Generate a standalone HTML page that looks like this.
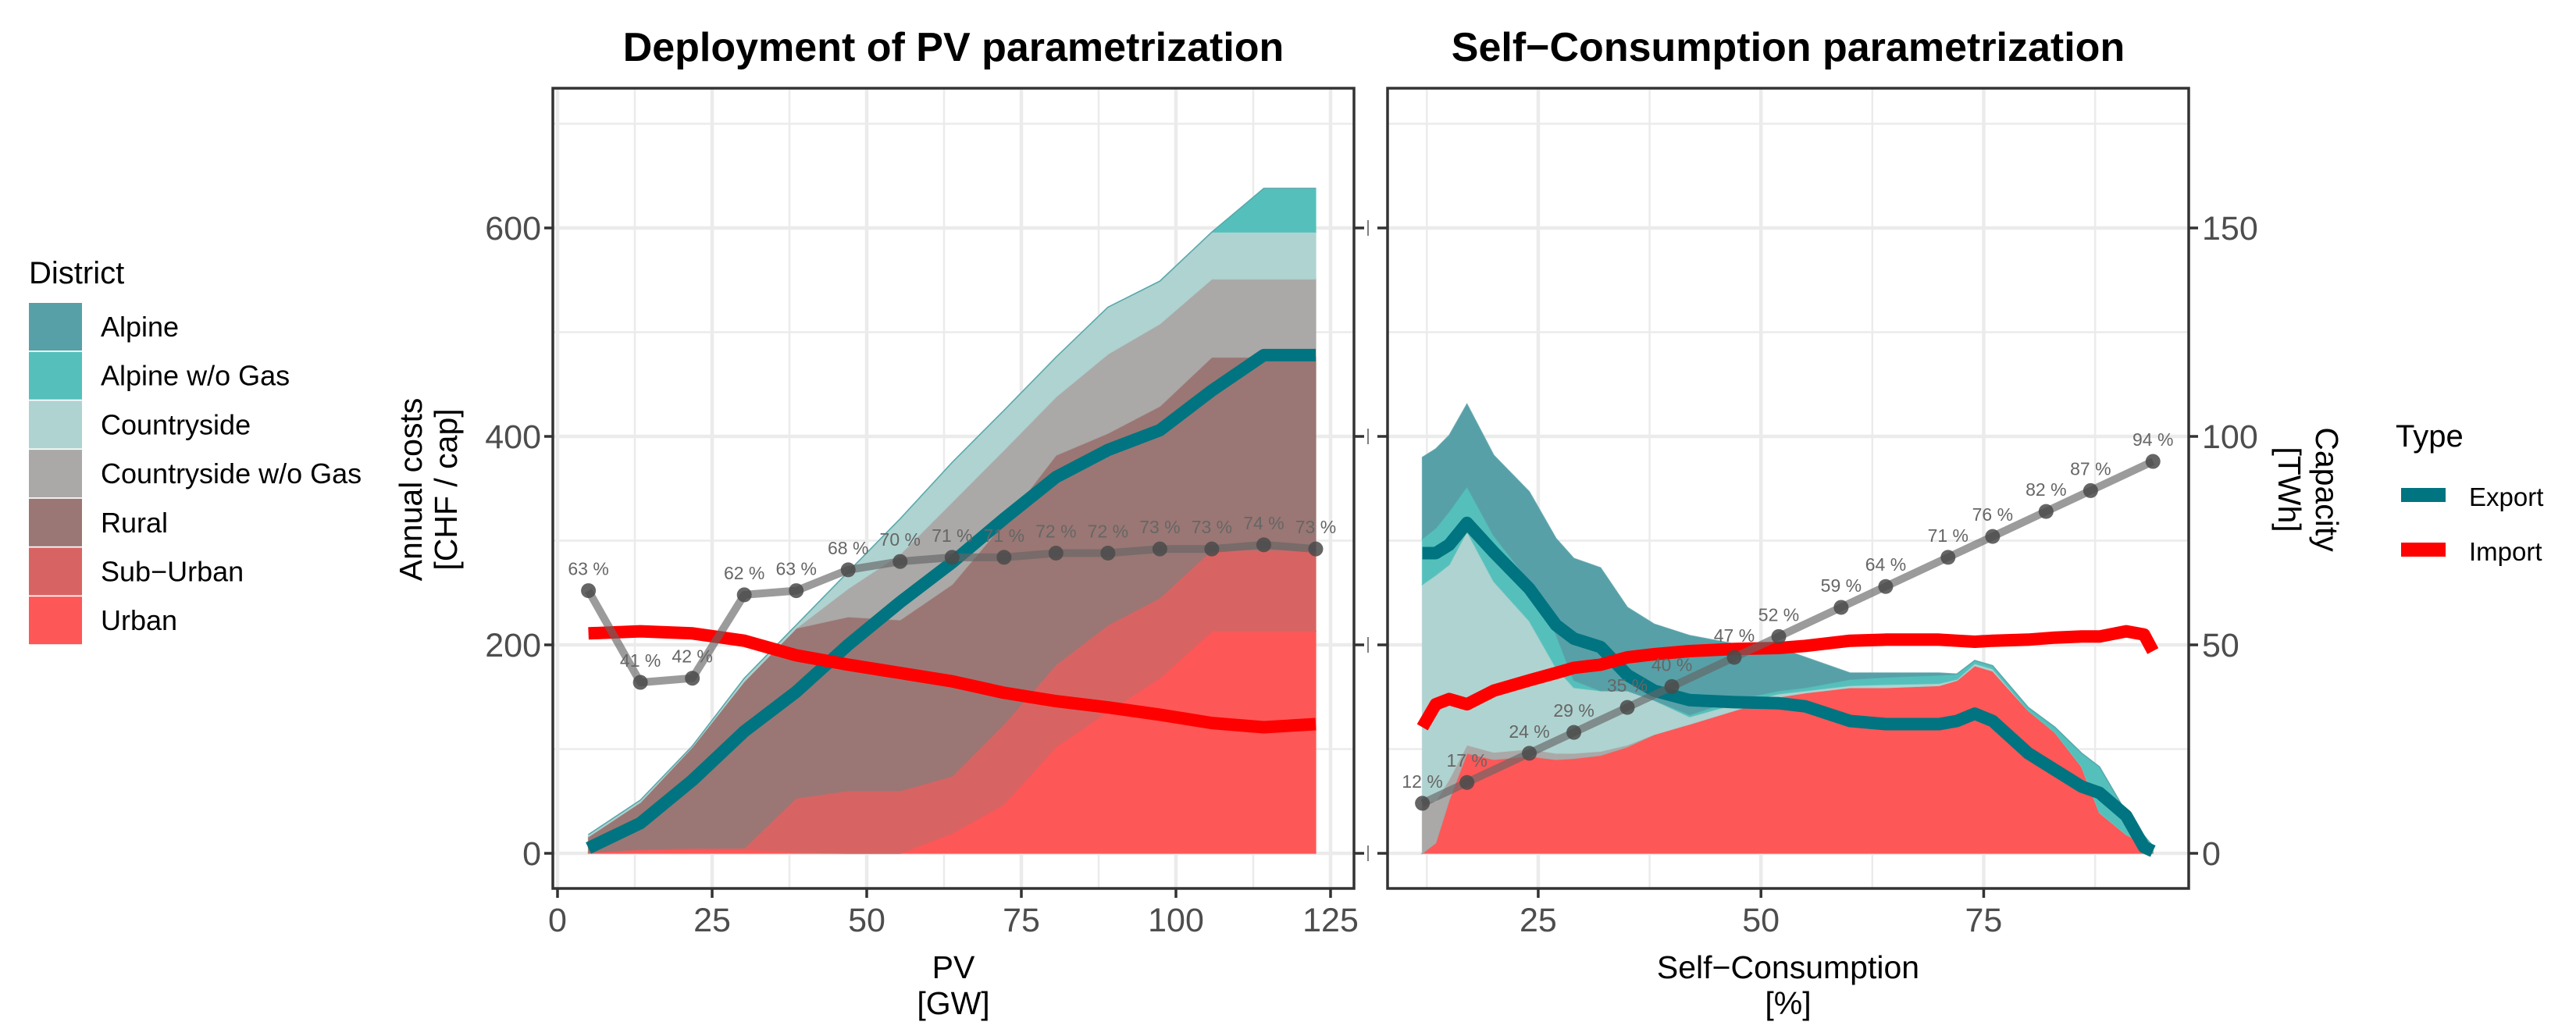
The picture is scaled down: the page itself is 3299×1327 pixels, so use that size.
<!DOCTYPE html>
<html><head><meta charset="utf-8"><style>
html,body{margin:0;padding:0;background:#fff;}
svg{display:block;font-family:"Liberation Sans",sans-serif;}
</style></head><body>
<svg id="chart" xmlns="http://www.w3.org/2000/svg" width="3299" height="1327" viewBox="0 0 3299 1327">
<rect width="3299" height="1327" fill="#fff"/>
<defs>
<clipPath id="clipL"><rect x="708" y="113" width="1026" height="1025"/></clipPath>
<clipPath id="clipR"><rect x="1777" y="113" width="1026" height="1025"/></clipPath>
</defs>
<g id="gridL"></g>
<g id="gridR"></g>
<g id="areasL" clip-path="url(#clipL)"></g>
<g id="areasR" clip-path="url(#clipR)"></g>
<g id="linesL" clip-path="url(#clipL)"></g>
<g id="linesR" clip-path="url(#clipR)"></g>
<rect x="708" y="113" width="1026" height="1025" fill="none" stroke="#333" stroke-width="3.5"/>
<rect x="1777" y="113" width="1026" height="1025" fill="none" stroke="#333" stroke-width="3.5"/>
<g id="axes"></g>
<text x="1221" y="78" text-anchor="middle" font-size="52" font-weight="bold">Deployment of PV parametrization</text>
<text x="2290" y="78" text-anchor="middle" font-size="52" font-weight="bold">Self−Consumption parametrization</text>
<text x="1221" y="1253" text-anchor="middle" font-size="41">PV</text>
<text x="1221" y="1299" text-anchor="middle" font-size="41">[GW]</text>
<text x="2290" y="1253" text-anchor="middle" font-size="41">Self−Consumption</text>
<text x="2290" y="1299" text-anchor="middle" font-size="41">[%]</text>
<text transform="translate(540,627) rotate(-90)" text-anchor="middle" font-size="41">Annual costs</text>
<text transform="translate(585,627) rotate(-90)" text-anchor="middle" font-size="41">[CHF / cap]</text>
<text transform="translate(2966,627) rotate(90)" text-anchor="middle" font-size="41">Capacity</text>
<text transform="translate(2918,627) rotate(90)" text-anchor="middle" font-size="41">[TWh]</text>
<g id="legendD">
<text x="37" y="363" font-size="40">District</text>
</g>
<g id="legendT">
<text x="3068" y="572" font-size="40">Type</text>
<rect x="3075" y="625" width="57" height="18" fill="#007480"/>
<text x="3162" y="648" font-size="33">Export</text>
<rect x="3075" y="695" width="57" height="18" fill="#ff0000"/>
<text x="3162" y="718" font-size="33">Import</text>
</g>
</svg>
<script>
// ---- data ----
const districts = ["Alpine","Alpine w/o Gas","Countryside","Countryside w/o Gas","Rural","Sub-Urban","Urban"];
const districtColors = ["#57a0a7","#55c0bb","#afd3d0","#aaa9a8","#9a7774","#d76463","#fe5757"];
// Left panel: PV deployment
const pvX = [5,13.4,21.8,30.2,38.6,47,55.4,63.8,72.2,80.6,89,97.4,105.8,114.2,122.6];
const pvUrban = [1,3,4,4,1,0,0,19,47,102,136,168,213,213,213];
const pvSubUrban = [0,1,1,1,52,60,60,55,77,79,83,77,78,78,78];
const pvRural = [15,45,97,160,163,167,164,184,193,201,184,184,185,185,185];
const pvCountrysideWoGas = [0,0,0,0,0,27,63,79,70,56,76,79,75,75,75];
const pvCountryside = [2,2,1,3,3,16,34,38,38,38,45,41,45,45,45];
const pvAlpineWoGas = [0,0,0,0,0,0,0,0,0,0,0,0,0,42,42];
const pvAlpine = [0,0,0,0,0,0,0,0,0,0,0,0,0,0,0];
const pvExport = [5,29,70,117,155,200,241,279,321,361,387,406,444,478,478];
const pvImport = [211,213,211,204,190,181,173,165,154,146,140,133,125,121,124];
const pvSelfCons = [63,41,42,62,63,68,70,71,71,72,72,73,73,74,73];
// Right panel: Self-consumption
const scX = [12,13.5,15,17,20,24,27,29,32,35,38,42,47,52,55,60,64,70,72,74,76,80,83,86,88,91,93,94];
const scUrban = [0,10,51,96,90,93,90,91,94,102,114,124,137,150,154,159,159,161,166,180,175,137,116,83,39,18,10,1];
const scSubUrban = [0,0,0,0,0,0,0,0,0,0,0,0,0,0,0,0,0,0,0,0,0,0,0,0,0,0,0,0];
const scRural = [0,0,0,0,0,0,0,0,0,0,0,0,0,0,0,0,0,0,0,0,0,0,0,0,0,0,0,0];
const scCountrysideWoGas = [50,40,20,8,7,7,6,5,4,2,0,0,0,0,0,0,0,0,0,0,0,0,0,0,0,0,0,0];
const scCountryside = [208,217,206,205,164,123,82,63,58,52,33,7,6,3,2,2,3,2,1,2,2,0,0,0,0,0,0,0];
const scAlpineWoGas = [44,45,51,43,44,38,32,7,0,0,0,2,4,3,3,6,7,8,5,3,3,3,5,13,44,21,7,6];
const scAlpine = [78,76,73,79,77,86,92,117,118,80,73,76,54,41,29,6,4,2,0,0,0,0,0,0,0,0,0,0];
const scExport = [288,288,296,317,289,254,219,206,198,171,156,147,145,144,141,127,124,124,127,134,127,96,80,64,58,36,6,2];
const scImport = [121,143,148,143,156,166,173,178,181,188,191,194,196,197,199,204,205,205,204,203,204,205,207,208,208,213,210,194];
const scPtsX = [12,17,24,29,35,40,47,52,59,64,71,76,82,87,94];
const scSelfCons = [12,17,24,29,35,40,47,52,59,64,71,76,82,87,94];
// ticks
const yTicks = [0,200,400,600];
const yMinor = [100,300,500,700];
const y2Ticks = [0,50,100,150];
const pvTicks = [0,25,50,75,100,125];
const pvMinor = [12.5,37.5,62.5,87.5,112.5];
const scTicks = [25,50,75];
const scMinor = [12.5,37.5,62.5,87.5];

// ---- scales ----
const NS="http://www.w3.org/2000/svg";
const yS = v => 1093 - v*1.335;
const y2S = v => yS(v*4);
const xL = v => 714 + v*7.92;
const xR = v => 1684.7 + v*11.41;
function mk(tag, attrs, parent){const e=document.createElementNS(NS,tag);for(const k in attrs)e.setAttribute(k,attrs[k]);parent.appendChild(e);return e;}
const $ = id => document.getElementById(id);

// grids
function grid(g, xs, major, minor, x0, x1){
  minor.forEach(v=>{const l=mk('line',{x1:x0,x2:x1,y1:yS(v),y2:yS(v),stroke:'#ebebeb','stroke-width':2.5},g);
    
    });
  yTicks.forEach(v=>{const l=mk('line',{x1:x0,x2:x1,y1:yS(v),y2:yS(v),stroke:'#ebebeb','stroke-width':4.5},g);
    
    });
  xs.minor.forEach(v=>{const l=mk('line',{x1:xs.f(v),x2:xs.f(v),y1:113,y2:1138,stroke:'#ebebeb','stroke-width':2.5},g);
    
    });
  xs.major.forEach(v=>{const l=mk('line',{x1:xs.f(v),x2:xs.f(v),y1:113,y2:1138,stroke:'#ebebeb','stroke-width':4.5},g);
    
    });
}
grid($('gridL'), {f:xL,major:pvTicks,minor:pvMinor}, yTicks, yMinor, 708, 1734);
grid($('gridR'), {f:xR,major:scTicks,minor:scMinor}, yTicks, yMinor, 1777, 2803);

// stacked areas
function stack(g, xs, xf, layers){
  const n=xs.length; let base=new Array(n).fill(0);
  const tops=[];
  layers.forEach(L=>{const top=base.map((b,i)=>b+L.vals[i]);tops.push({top,bot:base.slice(),L});base=top;});
  tops.forEach(t=>{
    let d='';
    for(let i=0;i<n;i++) d+=(i?'L':'M')+xf(xs[i]).toFixed(1)+','+yS(t.top[i]).toFixed(1);
    for(let i=n-1;i>=0;i--) d+='L'+xf(xs[i]).toFixed(1)+','+yS(t.bot[i]).toFixed(1);
    d+='Z';
    const p=mk('path',{d:d,fill:t.L.color,stroke:t.L.color,'stroke-width':1.5,'stroke-opacity':0.8},g);
    
    
  });
}
stack($('areasL'), pvX, xL, [
 {name:'Urban',vals:pvUrban,color:districtColors[6]},
 {name:'Sub-Urban',vals:pvSubUrban,color:districtColors[5]},
 {name:'Rural',vals:pvRural,color:districtColors[4]},
 {name:'Countryside w/o Gas',vals:pvCountrysideWoGas,color:districtColors[3]},
 {name:'Countryside',vals:pvCountryside,color:districtColors[2]},
 {name:'Alpine w/o Gas',vals:pvAlpineWoGas,color:districtColors[1]},
 {name:'Alpine',vals:pvAlpine,color:districtColors[0]}]);
stack($('areasR'), scX, xR, [
 {name:'Urban',vals:scUrban,color:districtColors[6]},
 {name:'Sub-Urban',vals:scSubUrban,color:districtColors[5]},
 {name:'Rural',vals:scRural,color:districtColors[4]},
 {name:'Countryside w/o Gas',vals:scCountrysideWoGas,color:districtColors[3]},
 {name:'Countryside',vals:scCountryside,color:districtColors[2]},
 {name:'Alpine w/o Gas',vals:scAlpineWoGas,color:districtColors[1]},
 {name:'Alpine',vals:scAlpine,color:districtColors[0]}]);

// lines
function line(g, xs, ys, xf, yf, color, w, name, op){
  const pts=xs.map((x,i)=>xf(x).toFixed(1)+','+yf(ys[i]).toFixed(1)).join(' ');
  const p=mk('polyline',{points:pts,fill:'none',stroke:color,'stroke-width':w,'stroke-linejoin':'round','stroke-opacity':op||1},g);
  
  
}
function selfCons(g, xs, vals, xf){
  line(g, xs, vals, xf, y2S, '#666', 10, 'self-consumption-line', 0.65);
  xs.forEach((x,i)=>{
    const c=mk('circle',{cx:xf(x),cy:y2S(vals[i]),r:9.5,fill:'#4a4a4a','fill-opacity':0.85},g);
    
    
    const t=mk('text',{x:xf(x),y:y2S(vals[i])-20,'text-anchor':'middle','font-size':23,fill:'#666'},g);
    t.textContent=vals[i]+' %';
    
    
  });
}
line($('linesL'), pvX, pvExport, xL, yS, '#007480', 16, 'export-line');
line($('linesL'), pvX, pvImport, xL, yS, '#ff0000', 16, 'import-line');
selfCons($('linesL'), pvX, pvSelfCons, xL);
line($('linesR'), scX, scExport, xR, yS, '#007480', 16, 'export-line');
line($('linesR'), scX, scImport, xR, yS, '#ff0000', 16, 'import-line');
selfCons($('linesR'), scPtsX, scSelfCons, xR);

// axes
const ax=$('axes');
yTicks.forEach(v=>{
  const l=mk('line',{x1:697,x2:708,y1:yS(v),y2:yS(v),stroke:'#333','stroke-width':3.5},ax);
  
  
  const t=mk('text',{x:693,y:yS(v)+15,'text-anchor':'end','font-size':43,fill:'#4d4d4d'},ax);
  t.textContent=v;
  
  
  const a=mk('line',{x1:1734,x2:1747,y1:yS(v),y2:yS(v),stroke:'#333','stroke-width':3.5},ax);
  
  
  const b=mk('line',{x1:1752,x2:1752,y1:yS(v)-10,y2:yS(v)+10,stroke:'#555','stroke-width':1.5},ax);
  
  
  const c=mk('line',{x1:1764,x2:1777,y1:yS(v),y2:yS(v),stroke:'#333','stroke-width':3.5},ax);
  
  
});
y2Ticks.forEach(v=>{
  const l=mk('line',{x1:2803,x2:2815,y1:y2S(v),y2:y2S(v),stroke:'#333','stroke-width':3.5},ax);
  
  
  const t=mk('text',{x:2820,y:y2S(v)+15,'font-size':43,fill:'#4d4d4d'},ax);
  t.textContent=v;
  
  
});
function xticks(ticks, xf){
  ticks.forEach(v=>{
    const l=mk('line',{x1:xf(v),x2:xf(v),y1:1138,y2:1150,stroke:'#333','stroke-width':3.5},ax);
    
    
    const t=mk('text',{x:xf(v),y:1193,'text-anchor':'middle','font-size':43,fill:'#4d4d4d'},ax);
    t.textContent=v;
    
    
  });
}
xticks(pvTicks, xL);
xticks(scTicks, xR);

// district legend
const lg=$('legendD');
districts.forEach((d,i)=>{
  const r=mk('rect',{x:37,y:388+i*62.7,width:68,height:61,fill:districtColors[i]},lg);
  
  
  const t=mk('text',{x:129,y:431+i*62.7,'font-size':36},lg);
  t.textContent=d.replace('-','−');
  
  
});
</script>
</body></html>
